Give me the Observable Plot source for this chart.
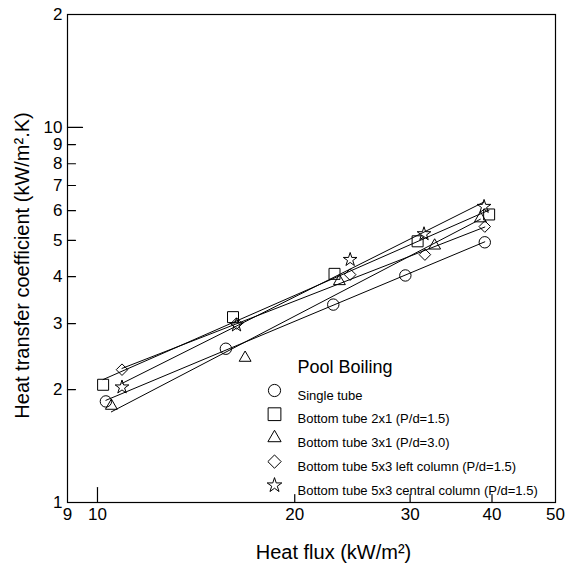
<!DOCTYPE html>
<html>
<head>
<meta charset="utf-8">
<script src="https://cdn.jsdelivr.net/npm/d3@7"></script>
<script src="https://cdn.jsdelivr.net/npm/@observablehq/plot@0.6"></script>
<style>
  body { margin: 0; background: #fff; }
  #chart { width: 573px; height: 570px; }
</style>
</head>
<body>
<div id="chart"></div>
<script>
// ---- data ----
const seriesNames = [
  "Single tube",
  "Bottom tube 2x1 (P/d=1.5)",
  "Bottom tube 3x1 (P/d=3.0)",
  "Bottom tube 5x3 left column (P/d=1.5)",
  "Bottom tube 5x3 central column (P/d=1.5)"
];
const singleX = [10.3, 15.7, 22.9, 29.5, 39.0];
const singleY = [1.86, 2.57, 3.37, 4.03, 4.94];
const tube2x1X = [10.2, 16.1, 23.0, 30.8, 39.6];
const tube2x1Y = [2.06, 3.12, 4.07, 4.97, 5.86];
const tube3x1X = [10.5, 16.8, 23.4, 32.7, 38.4];
const tube3x1Y = [1.81, 2.43, 3.89, 4.84, 5.72];
const leftColX = [10.9, 16.3, 24.3, 31.6, 39.0];
const leftColY = [2.26, 3.00, 4.05, 4.58, 5.44];
const centralColX = [10.9, 16.3, 24.3, 31.5, 38.9];
const centralColY = [2.03, 2.97, 4.44, 5.20, 6.15];

const xTickValues = [9, 10, 20, 30, 40, 50];
const xTickLabels = ["9", "10", "20", "30", "40", "50"];
const xMajorTicks = [10];
const xMinorTicks = [20, 30, 40];
const yTickValues = [1, 2, 3, 4, 5, 6, 7, 8, 9, 10, 20];
const yTickLabels = ["1", "2", "3", "4", "5", "6", "7", "8", "9", "10", "2"];
const yMajorTicks = [10];
const yMinorTicks = [2, 3, 4, 5, 6, 7, 8, 9];

const xTitle = "Heat flux (kW/m\u00B2)";
const yTitle = "Heat transfer coefficient (kW/m\u00B2.K)";
const legendTitle = "Pool Boiling";

// ---- styling ----
const symbols = ["circle", "square", "triangle", "diamond2", "star"];
const radii = [5.7, 6.2, 4.4, 5.2, 4.3];
const legendRadii = [6.1, 7.2, 4.9, 6.0, 4.6];
const font = "'Liberation Sans', Arial, Helvetica, sans-serif";

const seriesX = [singleX, tube2x1X, tube3x1X, leftColX, centralColX];
const seriesY = [singleY, tube2x1Y, tube3x1Y, leftColY, centralColY];

// power-law (log-log least squares) fit line for each series
function powerFit(xs, ys) {
  const lx = xs.map(Math.log10), ly = ys.map(Math.log10);
  const mx = d3.mean(lx), my = d3.mean(ly);
  const b = d3.sum(lx, (v, i) => (v - mx) * (ly[i] - my)) / d3.sum(lx, v => (v - mx) ** 2);
  const a = my - b * mx;
  return d3.extent(xs).map(x => ({x, y: 10 ** (a + b * Math.log10(x))}));
}

// inward tick shape for vector marks
const tickShape = {draw(ctx, l) { ctx.moveTo(0, 0); ctx.lineTo(0, -l); }};

const marks = [];
seriesX.forEach((xs, s) => {
  const pts = xs.map((x, i) => ({x, y: seriesY[s][i]}));
  marks.push(Plot.line(powerFit(xs, seriesY[s]), {x: "x", y: "y", stroke: "black", strokeWidth: 1}));
  marks.push(Plot.dot(pts, {x: "x", y: "y", symbol: symbols[s], r: radii[s], stroke: "black", fill: "none", strokeWidth: 1}));
});

// legend inside the frame
marks.push(Plot.text([legendTitle], {frameAnchor: "top-left", dx: 230, dy: 346, text: d => d, textAnchor: "start", fontSize: 18, fill: "black"}));
seriesNames.forEach((name, s) => {
  const dy = 376 + s * 23.7;
  marks.push(Plot.dot([name], {frameAnchor: "top-left", dx: 207, dy, symbol: symbols[s], r: legendRadii[s], stroke: "black", fill: "none", strokeWidth: 1}));
  marks.push(Plot.text([name], {frameAnchor: "top-left", dx: 230, dy, text: d => d, textAnchor: "start", fontSize: 13, fill: "black"}));
});

// axes: inward ticks, labels
marks.push(
  Plot.frame({stroke: "black", strokeWidth: 1.2}),
  Plot.vector(xMajorTicks, {x: d => d, frameAnchor: "bottom", length: 15, rotate: 0, anchor: "start", shape: tickShape, stroke: "black", strokeWidth: 1.2}),
  Plot.vector(xMinorTicks, {x: d => d, frameAnchor: "bottom", length: 8, rotate: 0, anchor: "start", shape: tickShape, stroke: "black", strokeWidth: 1.2}),
  Plot.vector(yMajorTicks, {y: d => d, frameAnchor: "left", length: 15, rotate: 90, anchor: "start", shape: tickShape, stroke: "black", strokeWidth: 1.2}),
  Plot.vector(yMinorTicks, {y: d => d, frameAnchor: "left", length: 8, rotate: 90, anchor: "start", shape: tickShape, stroke: "black", strokeWidth: 1.2}),
  Plot.axisX(xTickValues, {anchor: "bottom", tickSize: 0, tickPadding: 5, tickFormat: d => xTickLabels[xTickValues.indexOf(d)], fontSize: 17, label: null}),
  Plot.axisY(yTickValues, {anchor: "left", tickSize: 0, tickPadding: 5, tickFormat: d => yTickLabels[yTickValues.indexOf(d)], fontSize: 17, label: null}),
  Plot.text([xTitle], {frameAnchor: "bottom", dx: 22, dy: 56, text: d => d, textAnchor: "middle", fontSize: 20, fill: "black"}),
  Plot.text([yTitle], {frameAnchor: "left", dx: -45, dy: 7, rotate: -90, text: d => d, textAnchor: "middle", fontSize: 20, fill: "black"})
);

const chart = Plot.plot({
  width: 573,
  height: 570,
  marginLeft: 67,
  marginRight: 18,
  marginTop: 14,
  marginBottom: 68,
  style: {fontFamily: font, fontSize: "17px", color: "black", background: "white", overflow: "visible"},
  x: {type: "log", domain: [9, 50]},
  y: {type: "log", domain: [1, 20]},
  marks
});
document.getElementById("chart").appendChild(chart);
</script>
</body>
</html>
